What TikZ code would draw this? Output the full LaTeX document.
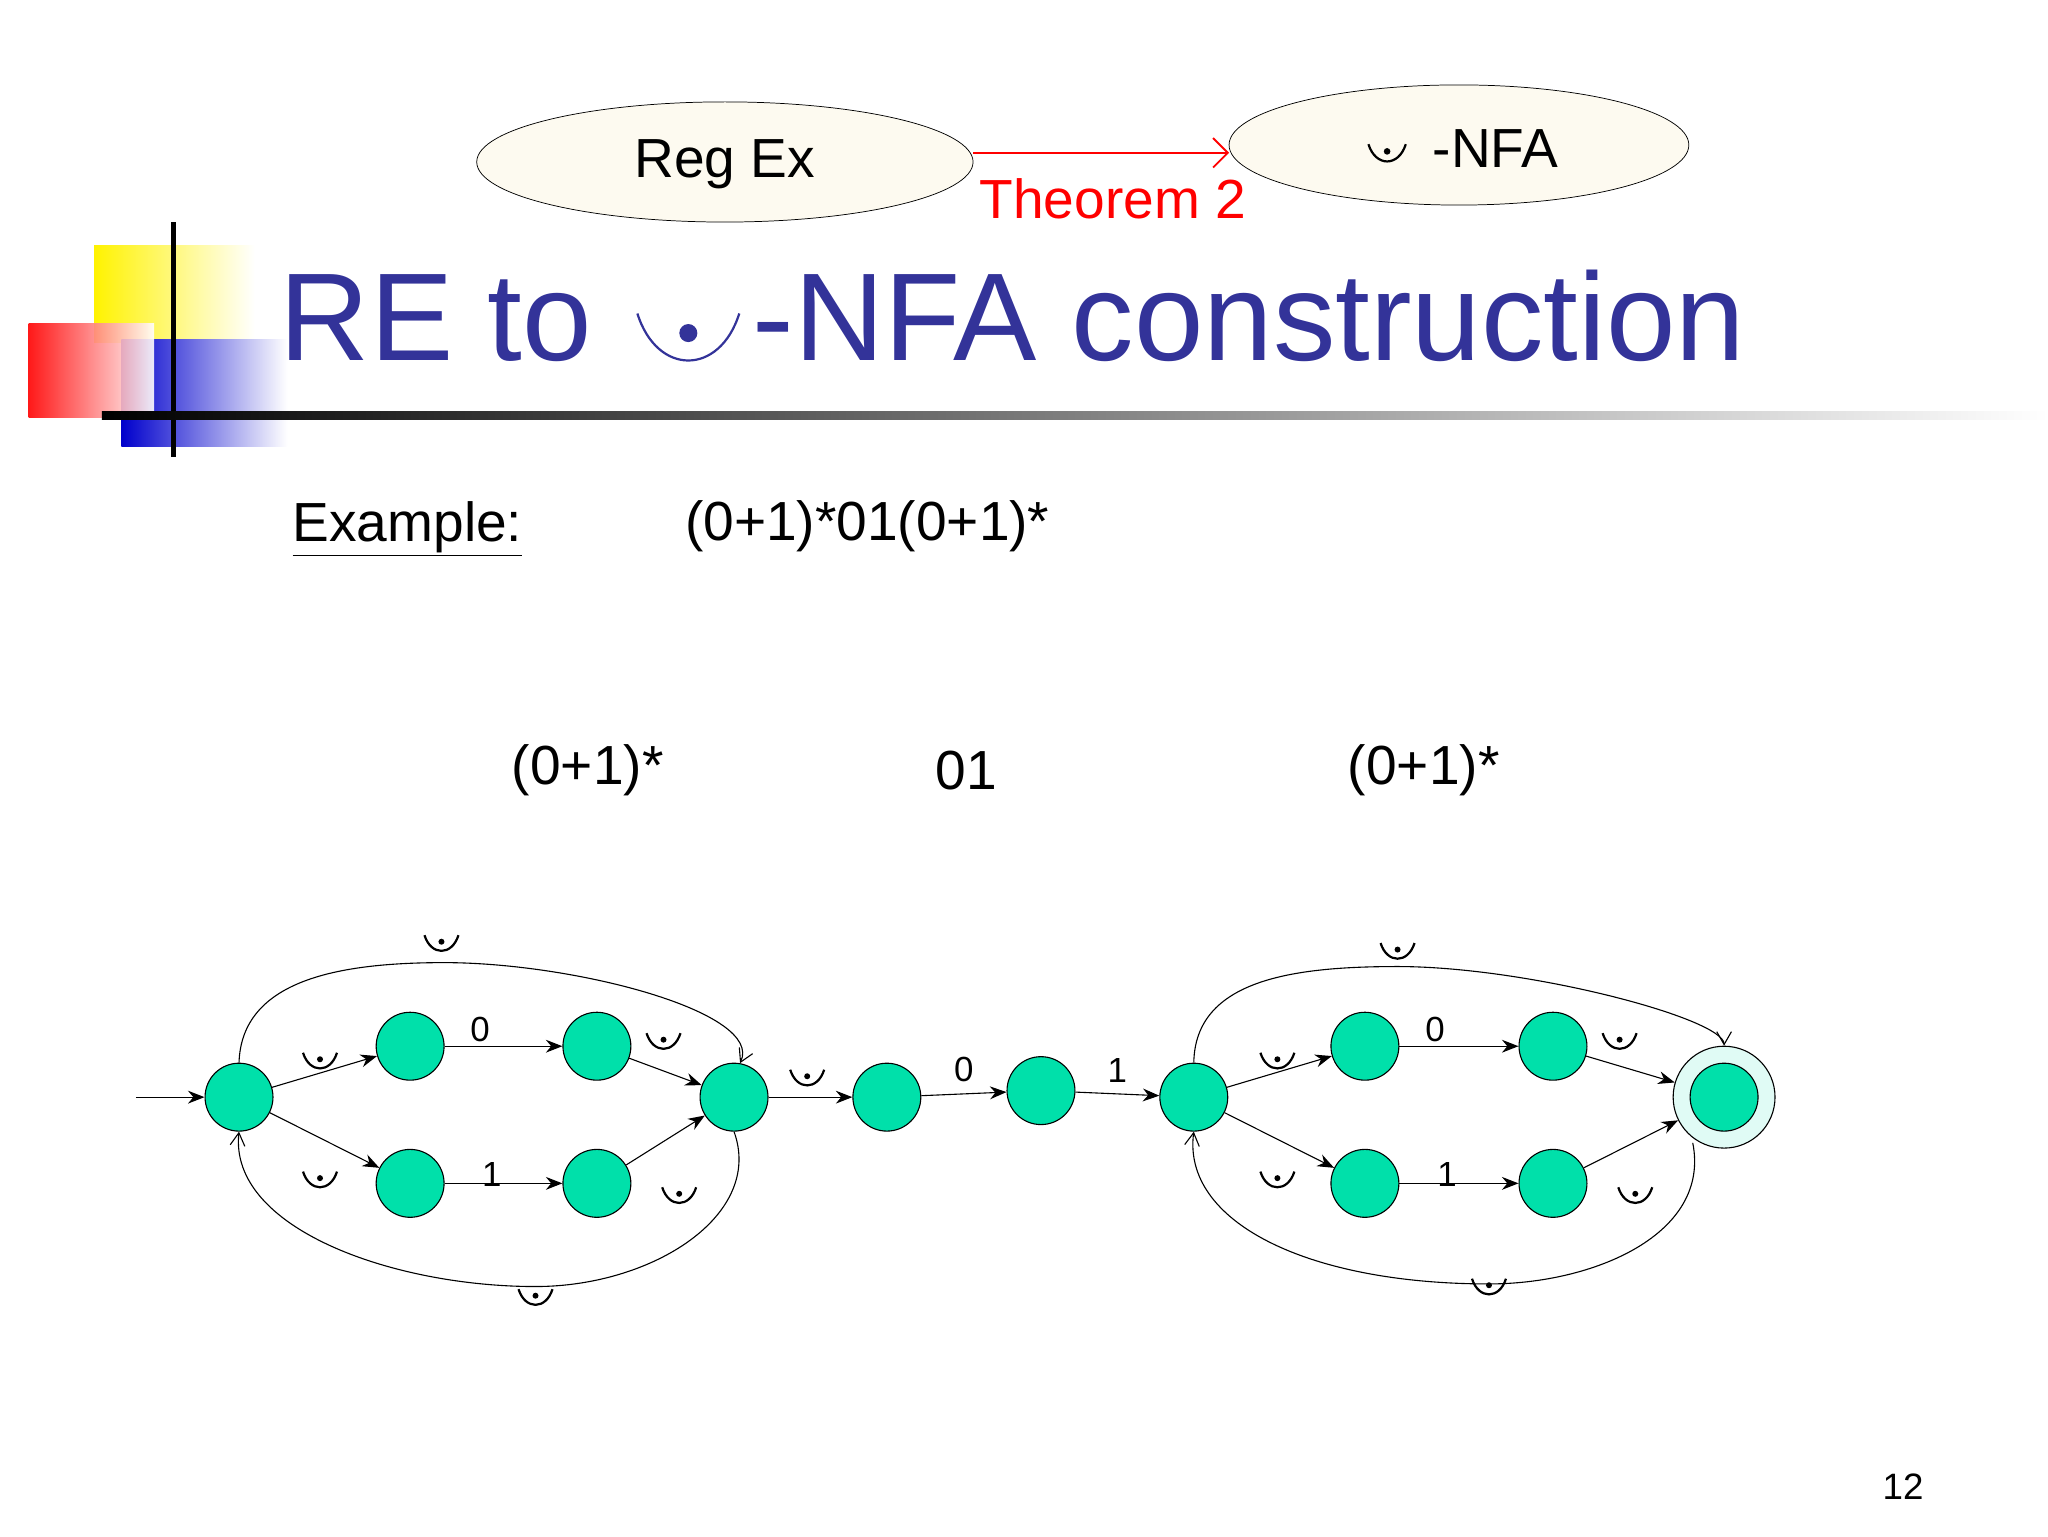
\documentclass[tikz,border=0pt]{standalone}
\usepackage{fontspec}
\setmainfont{Liberation Sans}
\usetikzlibrary{arrows.meta,shapes.geometric}
\definecolor{st}{RGB}{0,224,170}
\definecolor{cream}{RGB}{253,250,240}
\definecolor{tblue}{RGB}{51,51,153}
\begin{document}
\begin{tikzpicture}[x=0.25mm,y=-0.25mm,
  s/.style={circle,draw,fill=st,minimum size=13mm,inner sep=0,line width=0.6pt},
  e/.style={-{Stealth[length=9pt,width=7pt]},line width=0.6pt},
  lp/.style={-{Straight Barb[length=7pt,width=8pt]},line width=0.6pt},
  lab/.style={font=\fontsize{19}{22}\selectfont,inner sep=2pt},
  big/.style={font=\fontsize{30}{36}\selectfont},
  eps/.pic={\draw[line width=1.2pt] (-13,-6) .. controls (-8,10) and (8,10) .. (13,-6); \fill (0,-1) circle (2.3);}]
\useasboundingbox (0,0) rectangle (1568,1176);
% decoration
\shade[left color=yellow!90!orange,right color=white] (72,188) rectangle (195,262);
\shade[left color=blue!80!black,right color=white] (93,260) rectangle (220,342);
\shade[left color=red,right color=white,opacity=0.9] (22,248) rectangle (118,320);
\draw[line width=2.5pt] (133,170) -- (133,350);
\shade[left color=black,right color=white] (78,315) rectangle (1568,321);
% title
\node[anchor=base west,text=tblue,font=\fontsize{68}{80}\selectfont,inner sep=0] (title1) at (214,276) {RE to};
\node[anchor=base west,text=tblue,font=\fontsize{68}{80}\selectfont,inner sep=0] (title2) at (576,276) {-NFA construction};
\pic[tblue,scale=3] at (527,258) {eps};
% top ellipses
\node[ellipse,draw,fill=cream,minimum width=95mm,minimum height=23mm] (re) at (555,124) {};
\node[big] at (555,126) {Reg Ex};
\node[ellipse,draw,fill=cream,minimum width=88mm,minimum height=23mm] (nfa) at (1117,111) {};
\node[big] at (1145,114) {-NFA};
\pic[scale=1.1] at (1062,117) {eps};
\coordinate (ta) at (745,117);
\coordinate (tb) at (941,117);
\draw[red,-{Straight Barb[length=8pt]},line width=1pt] (ta) -- (tb);
\node[big,text=red] at (852,152) {Theorem 2};
% texts
\node[big] at (312,405) {\underline{Example:}};
\node[big] at (664,403) {(0+1)*01(0+1)*};
\node[big] at (450,590) {(0+1)*};
\node[big] at (740,590) {01};
\node[big] at (1090,590) {(0+1)*};
\node[font=\fontsize{20}{24}\selectfont] at (1457,1138) {12};
% states
\node[s] (s0) at (183,840) {};
\node[s] (a1) at (314,801) {};
\node[s] (a2) at (457,801) {};
\node[s] (b1) at (314,906) {};
\node[s] (b2) at (457,906) {};
\node[s] (s1) at (562,840) {};
\node[s] (m1) at (679,840) {};
\node[s] (m2) at (797,835) {};
\node[s] (s2) at (914,840) {};
\node[s] (c1) at (1045,801) {};
\node[s] (c2) at (1189,801) {};
\node[s] (d1) at (1045,906) {};
\node[s] (d2) at (1189,906) {};
\node[circle,draw,fill=st!12,minimum size=19.5mm,line width=0.6pt] (f) at (1320,840) {};
\node[s] (fi) at (1320,840) {};
\coordinate (start) at (104,840);
% edges
\draw[e] (start) -- (s0);
\draw[e] (s0) -- (a1); \draw[e] (s0) -- (b1);
\draw[e] (a1) -- node[lab,above,pos=0.3]{0} (a2);
\draw[e] (b1) -- node[lab,above=-4pt,pos=0.4]{1} (b2);
\draw[e] (a2) -- (s1); \draw[e] (b2) -- (s1);
\draw[e] (s1) -- (m1);
\draw[e] (m1) -- node[lab,above=4pt,pos=0.5]{0} (m2);
\draw[e] (m2) -- node[lab,above=4pt,pos=0.5]{1} (s2);
\draw[e] (s2) -- (c1); \draw[e] (s2) -- (d1);
\draw[e] (c1) -- node[lab,above,pos=0.3]{0} (c2);
\draw[e] (d1) -- node[lab,above=-4pt,pos=0.4]{1} (d2);
\draw[e] (c2) -- (f); \draw[e] (d2) -- (f);
\draw[lp] (s0.north) .. controls (185,750) and (260,737) .. (340,737) .. controls (440,737) and (585,775) .. (s1.80);
\draw[lp] (s1.south) .. controls (585,930) and (500,985) .. (410,985) .. controls (300,985) and (175,940) .. (s0.south);
\draw[lp] (s2.north) .. controls (915,750) and (990,740) .. (1070,740) .. controls (1170,740) and (1320,780) .. (f.north);
\draw[lp] (1296,875) .. controls (1310,945) and (1220,983) .. (1140,983) .. controls (1000,983) and (905,935) .. (s2.south);
% epsilon labels
\foreach \p in {(338,722),(245,812),(245,903),(508,797),(520,915),(410,993),(618,825),(1070,728),(978,812),(978,903),(1240,797),(1252,915),(1140,985)}
  \pic at \p {eps};
\end{tikzpicture}
\end{document}
